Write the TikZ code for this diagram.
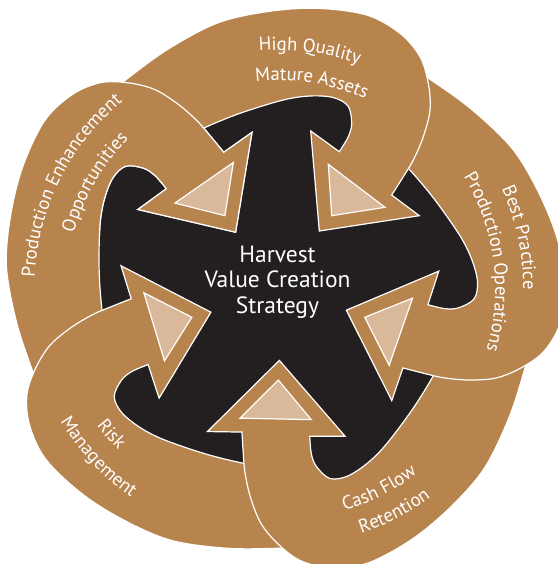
\documentclass[tikz,border=0pt]{standalone}
\usepackage{fontspec}
\setmainfont{PT Sans}
\usetikzlibrary{decorations.text}
\definecolor{bandtan}{HTML}{B8844E}
\definecolor{bandlight}{HTML}{D9B99A}
\definecolor{corefill}{HTML}{231F20}
\newcommand{\hvarrow}{%
  \path[arrowband] plot[smooth, tension=0.55] coordinates {(93,106) (123.3,81.7) (166.7,50) (216.7,23.3) (266.7,11.7) (316.7,8.3) (366.7,15) (400,33.3) (420,56.7) (428.3,83.3) (430,110) (423.3,136.7) (413.3,160) (403.3,176.7) (391.7,195)}
   -- (419.3,215.7) -- (319.3,231) -- (310.7,131) -- (339.3,151.7)
   -- plot[smooth, tension=0.55] coordinates {(339.3,151.7) (348.3,136.7) (351.7,123.3) (348,106) (333,97.5) (310,96) (283.3,100) (240,113.3) (203.3,128.3) (178,142)} -- cycle;
  \path[arrowinner] (328.3,164.3) -- (385,207.3) -- (331.7,215.7) -- cycle;
}
\newcommand{\lblfont}{\fontsize{18.8}{21}\selectfont}
\begin{document}
\begin{tikzpicture}[x=1pt,y=-1pt,
  arrowband/.style={fill=bandtan, draw=white, line width=1.2pt},
  arrowinner/.style={fill=bandlight, draw=white, line width=1.2pt},
  lbl/.style={decorate, decoration={text along path, text align=center, text color=white}}]
\useasboundingbox (0,0) rectangle (557,564);
\coordinate (C) at (278.3,289.2);
\fill[corefill] (C) circle[radius=205];
\foreach \k in {4,3,2,1,0} {
  \begin{scope}[rotate around={-72*\k:(C)}]
    \hvarrow
  \end{scope}
}
\begin{scope}
  \clip (60,40) rectangle (265,245);
  \begin{scope}[rotate around={72:(C)}]
    \hvarrow
  \end{scope}
\end{scope}
% labels (top three: tops outward)
\path[lbl, decoration={text={|\lblfont|High Quality}}] ([shift={(C)}]-117.5:239) arc[start angle=-117.5, end angle=-47.5, radius=239];
\path[lbl, decoration={text={|\lblfont|Mature Assets}}] ([shift={(C)}]-115.8:209) arc[start angle=-115.8, end angle=-45.8, radius=209];
\path[lbl, decoration={text={|\lblfont|Best Practice}}] ([shift={(C)}]-47:245) arc[start angle=-47, end angle=23, radius=245];
\path[lbl, decoration={text={|\lblfont|Production Operations}}] ([shift={(C)}]-42.5:217) arc[start angle=-42.5, end angle=27.5, radius=217];
\path[lbl, decoration={text={|\lblfont|Production Enhancement}}] ([shift={(C)}]171.6:244) arc[start angle=171.6, end angle=241.6, radius=244];
\path[lbl, decoration={text={|\lblfont|Opportunities}}] ([shift={(C)}]175.2:212) arc[start angle=175.2, end angle=245.2, radius=212];
% bottom two: tops inward
\path[lbl, decoration={text={|\lblfont|Cash Flow}}] ([shift={(C)}]98.2:231) arc[start angle=98.2, end angle=28.2, radius=231];
\path[lbl, decoration={text={|\lblfont|Retention}}] ([shift={(C)}]97.5:258) arc[start angle=97.5, end angle=27.5, radius=258];
\path[lbl, decoration={text={|\lblfont|Risk}}] ([shift={(C)}]174:227) arc[start angle=174, end angle=104, radius=227];
\path[lbl, decoration={text={|\lblfont|Management}}] ([shift={(C)}]172:255) arc[start angle=172, end angle=102, radius=255];
\node[text=white, align=center, font=\fontsize{23.5}{25.5}\selectfont] (title) at (277.5,282) {Harvest\\Value Creation\\Strategy};
\end{tikzpicture}
\end{document}
